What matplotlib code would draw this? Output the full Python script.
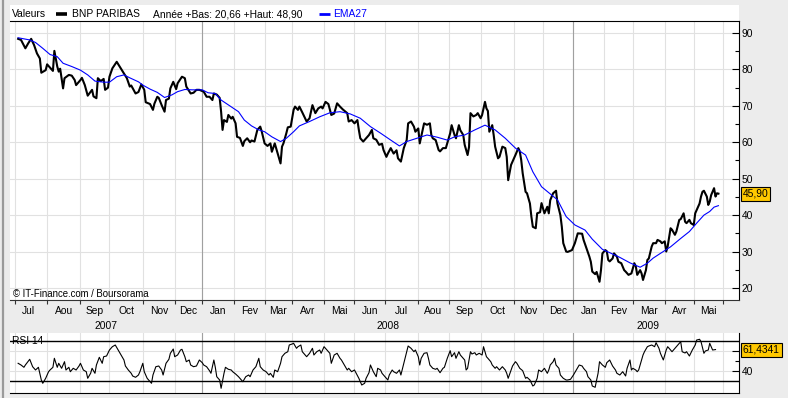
import numpy as np
import pandas as pd
import matplotlib
matplotlib.use("Agg")
import matplotlib.pyplot as plt
from matplotlib.lines import Line2D
from matplotlib.transforms import blended_transform_factory

plt.rcParams['font.family'] = ['Liberation Sans', 'DejaVu Sans']

# Euronext Paris closing days in the period
holidays = ['2007-12-25', '2007-12-26', '2008-01-01', '2008-03-21', '2008-03-24',
            '2008-05-01', '2008-12-25', '2008-12-26', '2009-01-01', '2009-04-10',
            '2009-04-13', '2009-05-01']

# session number (0 = 2 Jul 2007) and close of BNP PARIBAS
price_session = [2, 4, 7, 9, 11, 13, 15, 17, 18, 21, 22, 24, 26, 27, 29, 30, 31, 33, 34, 37,
                 39, 41, 42, 45, 46, 48, 50, 53, 54, 56, 57, 59, 61, 62, 64, 65, 67, 70, 72, 75,
                 77, 79, 80, 83, 85, 87, 89, 90, 93, 95, 96, 98, 99, 101, 103, 104, 106, 107, 109, 111,
                 112, 115, 117, 118, 121, 123, 125, 127, 130, 132, 134, 136, 137, 139, 141, 142, 143, 144, 146, 147,
                 149, 150, 152, 153, 155, 157, 158, 160, 162, 163, 165, 167, 169, 170, 172, 174, 176, 177, 179, 181,
                 183, 184, 185, 187, 188, 190, 192, 193, 195, 196, 198, 201, 203, 205, 207, 209, 211, 212, 214, 216,
                 218, 220, 222, 224, 226, 229, 230, 232, 234, 236, 237, 238, 240, 242, 244, 246, 247, 249, 251, 253,
                 254, 256, 257, 259, 261, 263, 264, 266, 268, 270, 271, 273, 275, 276, 278, 279, 280, 282, 284, 286,
                 287, 288, 290, 292, 293, 295, 297, 299, 300, 301, 303, 304, 306, 307, 309, 310, 312, 313, 314, 316,
                 318, 319, 321, 322, 324, 325, 326, 327, 329, 330, 331, 333, 334, 336, 338, 339, 340, 342, 344, 345,
                 347, 348, 349, 350, 352, 353, 355, 356, 357, 359, 360, 362, 363, 365, 367, 368, 369, 371, 373, 374,
                 376, 377, 378, 380, 381, 384, 386, 388, 391, 392, 394, 396, 397, 398, 400, 401, 403, 404, 405, 407,
                 408, 409, 410, 412, 413, 415, 416, 418, 420, 421, 423, 425, 427, 428, 429, 431, 432, 433, 435, 436,
                 437, 439, 440, 442, 443, 445, 446, 448, 449, 450, 452, 453, 455, 456, 458, 459, 461, 462, 463, 465,
                 466, 468, 469, 471, 472, 473, 474, 475, 477, 478, 479, 480, 482, 483, 484, 485]
price = [88.4, 88.1, 85.8, 87.2, 88.4, 86.7, 84.4, 83.0, 79.1, 79.8, 81.4, 80.5, 79.6, 85.1, 80.8, 79.4, 80.2, 74.8, 77.6, 78.5,
         78.3, 77.1, 75.7, 77.1, 77.7, 75.7, 72.8, 74.4, 72.6, 72.1, 77.6, 76.8, 77.4, 74.4, 75.0, 78.0, 80.3, 82.1, 80.8, 78.9,
         77.6, 75.3, 75.6, 73.4, 73.8, 75.9, 74.4, 71.0, 70.5, 68.9, 70.6, 72.5, 72.2, 70.2, 68.4, 71.6, 72.0, 74.8, 76.6, 74.6,
         76.2, 78.0, 77.6, 75.3, 73.4, 73.6, 74.4, 74.4, 73.9, 72.5, 72.5, 71.6, 73.4, 73.1, 72.2, 68.4, 63.4, 66.1, 65.6, 67.5,
         66.5, 67.0, 65.2, 61.5, 61.2, 59.0, 60.3, 61.1, 60.0, 60.5, 60.2, 63.4, 64.3, 63.0, 59.7, 59.0, 59.7, 57.4, 59.7, 57.0,
         54.2, 58.8, 59.7, 62.5, 64.1, 64.3, 68.9, 69.8, 68.9, 69.8, 68.2, 65.7, 66.6, 70.2, 68.0, 69.3, 69.8, 69.3, 71.1, 70.5,
         67.5, 67.9, 70.7, 69.8, 69.0, 68.0, 65.7, 66.1, 65.2, 66.1, 63.4, 61.1, 60.2, 61.1, 62.0, 63.4, 61.1, 60.7, 59.3, 59.6,
         57.9, 56.0, 56.9, 58.4, 56.9, 57.8, 55.6, 54.7, 58.4, 60.6, 65.2, 65.7, 64.3, 62.9, 63.8, 59.7, 61.5, 65.2, 64.8, 65.2,
         62.0, 61.1, 60.6, 57.9, 57.5, 58.4, 58.4, 61.1, 62.5, 64.7, 62.0, 61.1, 64.7, 63.3, 62.0, 59.3, 56.5, 58.7, 68.0, 67.1,
         67.5, 68.0, 66.6, 67.5, 71.1, 69.3, 68.6, 62.9, 64.7, 62.0, 58.8, 55.6, 56.0, 58.8, 58.4, 56.0, 49.6, 53.8, 55.6, 56.5,
         58.4, 57.5, 55.1, 51.5, 46.4, 46.0, 43.2, 39.6, 36.8, 36.4, 40.5, 40.8, 43.3, 40.5, 42.3, 40.5, 44.1, 46.0, 46.7, 43.2,
         40.0, 36.8, 32.3, 30.0, 29.9, 30.4, 32.3, 35.0, 34.9, 33.2, 30.9, 28.6, 27.2, 24.5, 23.8, 24.4, 21.7, 24.9, 29.5, 30.4,
         30.1, 27.7, 27.3, 28.1, 29.5, 28.6, 27.2, 26.8, 24.9, 24.5, 23.6, 24.0, 26.8, 26.0, 23.6, 24.9, 24.0, 22.2, 24.9, 27.7,
         28.1, 31.4, 32.3, 32.3, 33.2, 32.8, 32.3, 32.8, 30.0, 31.4, 36.4, 36.0, 34.6, 35.5, 38.7, 38.9, 40.5, 38.2, 37.8, 38.7,
         37.8, 37.3, 40.5, 42.3, 43.2, 45.1, 46.4, 46.7, 45.1, 42.8, 43.7, 45.5, 47.4, 45.1, 46.0, 45.9]

ema_session = [2, 10, 14, 19, 24, 29, 33, 39, 45, 50, 55, 61, 65, 70, 75, 79, 85, 88, 93, 98,
               103, 108, 112, 117, 122, 129, 133, 138, 142, 148, 154, 158, 163, 168, 172, 177, 183, 187, 192, 196,
               203, 210, 217, 224, 231, 238, 245, 252, 259, 265, 270, 277, 284, 291, 298, 303, 310, 317, 324, 331,
               338, 345, 352, 357, 363, 370, 374, 380, 386, 393, 398, 405, 410, 417, 424, 431, 436, 440, 445, 452,
               459, 465, 470, 475, 479, 482, 485]
ema27 = [88.7, 88.1, 87.4, 85.8, 84.1, 83.5, 81.7, 80.8, 79.8, 78.5, 76.8, 76.5, 76.5, 78.0, 78.5, 77.7, 76.6, 75.7, 74.6, 73.7,
         72.3, 73.0, 73.9, 74.5, 74.4, 74.4, 73.6, 73.4, 71.6, 70.0, 68.4, 66.1, 64.5, 63.4, 62.9, 61.5, 60.2, 61.1, 62.9, 64.5,
         65.7, 67.0, 68.1, 68.4, 67.8, 66.6, 64.3, 62.5, 60.6, 59.0, 60.2, 61.1, 62.0, 61.4, 60.6, 61.5, 62.0, 63.4, 64.7, 63.4,
         61.1, 58.4, 56.5, 51.9, 47.8, 45.5, 44.2, 39.6, 37.3, 35.9, 33.4, 30.6, 29.7, 28.4, 26.9, 25.7, 26.8, 28.2, 29.5, 31.3,
         33.6, 35.5, 37.8, 40.0, 41.0, 42.2, 42.6]

rsi_session = [2, 4, 6, 7, 10, 12, 14, 16, 18, 19, 21, 23, 24, 26, 27, 29, 30, 32, 34, 35,
               37, 38, 40, 42, 44, 45, 47, 49, 50, 52, 53, 55, 56, 58, 60, 61, 63, 65, 67, 69,
               71, 73, 75, 76, 78, 80, 81, 83, 85, 86, 88, 89, 91, 92, 94, 95, 97, 99, 101, 102,
               104, 106, 107, 109, 110, 112, 114, 115, 117, 118, 120, 121, 123, 125, 127, 129, 130, 132, 134, 135,
               137, 138, 139, 141, 142, 144, 145, 147, 149, 150, 152, 154, 156, 157, 159, 161, 162, 164, 166, 168,
               169, 171, 173, 175, 176, 178, 179, 181, 183, 184, 186, 188, 189, 191, 192, 194, 195, 197, 198, 200,
               201, 203, 205, 206, 208, 210, 211, 213, 215, 217, 218, 220, 222, 224, 225, 227, 229, 230, 232, 234,
               237, 239, 241, 242, 244, 245, 247, 249, 250, 252, 253, 255, 257, 258, 260, 261, 263, 265, 266, 268,
               270, 271, 273, 275, 276, 278, 279, 280, 282, 284, 285, 286, 288, 290, 291, 293, 295, 296, 298, 300,
               301, 303, 304, 306, 307, 309, 310, 311, 312, 314, 315, 317, 318, 320, 322, 323, 325, 326, 328, 329,
               331, 332, 334, 336, 338, 339, 340, 342, 343, 345, 346, 348, 350, 352, 353, 355, 357, 358, 360, 361,
               363, 365, 367, 368, 369, 371, 372, 373, 375, 376, 378, 380, 381, 383, 385, 387, 389, 391, 392, 394,
               395, 397, 398, 400, 401, 402, 403, 405, 407, 408, 410, 412, 414, 415, 417, 419, 421, 422, 424, 425,
               426, 428, 429, 430, 432, 433, 434, 436, 437, 439, 441, 442, 444, 445, 447, 448, 449, 450, 451, 453,
               454, 456, 457, 459, 460, 462, 463, 465, 467, 469, 470, 472, 473, 475, 476, 478, 479, 480, 481, 483]
rsi14 = [47.7, 46.0, 43.7, 46.0, 51.7, 44.3, 41.0, 43.7, 31.0, 27.7, 32.7, 39.3, 41.0, 43.7, 52.7, 43.7, 47.7, 42.7, 49.3, 41.0,
         43.7, 39.3, 42.7, 41.0, 45.0, 47.7, 41.0, 39.3, 32.7, 37.7, 42.7, 37.7, 46.0, 53.7, 47.7, 54.3, 55.0, 61.0, 64.3, 66.0,
         61.0, 56.0, 51.0, 45.0, 41.0, 37.7, 35.0, 33.7, 36.0, 39.3, 47.7, 39.3, 32.7, 31.0, 27.7, 36.0, 44.3, 45.0, 41.0, 36.0,
         47.7, 51.7, 57.7, 62.0, 54.3, 56.0, 61.0, 61.7, 54.3, 49.3, 51.0, 46.0, 44.3, 45.0, 51.0, 48.3, 46.0, 44.3, 40.3, 37.7,
         51.0, 43.7, 34.3, 31.0, 22.7, 37.7, 43.7, 41.7, 41.0, 39.3, 37.0, 34.3, 31.0, 29.3, 34.3, 36.0, 34.3, 41.0, 44.3, 52.7,
         44.3, 41.0, 39.3, 36.0, 37.7, 33.7, 41.0, 39.3, 47.7, 54.3, 57.7, 59.3, 66.0, 67.0, 67.7, 62.7, 64.3, 66.0, 59.3, 56.0,
         54.3, 57.7, 62.7, 56.0, 59.3, 61.0, 57.7, 64.3, 61.0, 57.7, 47.7, 56.0, 57.7, 52.7, 51.0, 46.0, 41.0, 42.7, 39.3, 41.0,
         32.7, 26.0, 27.7, 32.7, 38.3, 46.0, 39.3, 34.3, 42.7, 41.0, 37.7, 34.3, 31.0, 36.0, 41.0, 39.3, 37.7, 41.0, 36.0, 47.7,
         59.3, 65.0, 62.7, 59.3, 61.0, 54.3, 46.0, 52.7, 57.7, 58.3, 52.7, 46.0, 42.7, 41.7, 42.7, 38.3, 42.7, 43.7, 52.7, 60.3,
         54.3, 58.3, 52.7, 59.3, 56.0, 52.7, 51.0, 41.0, 42.7, 59.3, 57.0, 58.3, 56.0, 57.7, 56.0, 64.3, 54.3, 52.7, 49.3, 46.0,
         42.7, 44.3, 41.0, 44.3, 41.0, 37.7, 32.7, 41.0, 45.0, 49.3, 47.7, 42.7, 40.3, 32.7, 33.7, 31.0, 25.0, 26.0, 32.7, 41.0,
         39.3, 42.7, 37.7, 41.0, 46.0, 49.3, 52.7, 46.0, 42.7, 36.0, 32.7, 31.0, 31.0, 31.7, 36.0, 41.0, 46.0, 45.0, 42.7, 39.3,
         34.3, 31.0, 25.0, 23.7, 31.0, 37.7, 49.3, 46.0, 43.7, 48.3, 51.0, 45.0, 41.0, 37.7, 36.0, 39.3, 35.0, 42.7, 51.0, 41.0,
         42.7, 41.0, 39.3, 41.0, 51.0, 56.0, 59.3, 64.3, 65.0, 66.0, 64.3, 68.3, 62.7, 57.7, 51.0, 56.0, 61.0, 64.3, 62.7, 59.3,
         61.0, 64.3, 66.0, 69.3, 59.3, 58.0, 59.3, 55.0, 61.0, 66.0, 71.0, 71.7, 69.3, 57.7, 60.0, 61.0, 67.7, 64.3, 61.0, 61.4341]

month_names = ['Jan', 'Fev', 'Mar', 'Avr', 'Mai', 'Jun', 'Jul', 'Aou', 'Sep', 'Oct', 'Nov', 'Dec']

# trading calendar -> first session of every month
sessions = pd.bdate_range('2007-07-02', '2009-06-30', freq='C', holidays=holidays)
idx = pd.Series(np.arange(len(sessions)), index=sessions)
month_first = idx.groupby([sessions.year, sessions.month]).first()
month_keys = list(month_first.index)
month_starts = list(month_first.values)

W, H = 788, 398
BG = '#ECECEC'
GRID = '#E1E1E1'
YEARLINE = '#A0A0A0'
XLIM = (-3.6, 499.2)


def box(x0, y0, x1, y1):
    return [x0 / W, 1 - y1 / H, (x1 - x0) / W, (y1 - y0) / H]


fig = plt.figure(figsize=(W / 100, H / 100), dpi=100)
fig.patch.set_facecolor(BG)

head = fig.add_axes(box(10, 5, 739, 21))
ax = fig.add_axes(box(10, 21, 739, 300))
ax_rsi = fig.add_axes(box(10, 333, 739, 393))

# ---- header strip
head.set_facecolor('white')
head.set_xticks([])
head.set_yticks([])
for s in head.spines.values():
    s.set_visible(False)
head.set_xlim(0, 1)
head.set_ylim(0, 1)
fs = 7.4
head.text(0.0027, 0.42, 'Valeurs', fontsize=fs, va='center')
head.plot([0.063, 0.078], [0.42, 0.42], color='black', lw=2.6, solid_capstyle='butt')
head.text(0.085, 0.42, 'BNP PARIBAS', fontsize=fs, va='center')
head.text(0.196, 0.42, 'Année +Bas: 20,66 +Haut: 48,90', fontsize=fs, va='center')
head.plot([0.424, 0.439], [0.42, 0.42], color='#0000FF', lw=2.0, solid_capstyle='butt')
head.text(0.443, 0.42, 'EMA27', fontsize=fs, va='center', color='#0000FF')

# ---- shared panel styling
for a in (ax, ax_rsi):
    a.set_facecolor('white')
    a.set_xlim(*XLIM)
    a.set_xticks(month_starts)
    a.grid(axis='x', color=GRID, lw=0.8, zorder=0)
    for key, start in zip(month_keys, month_starts):
        if key[1] == 1:
            a.axvline(start, color=YEARLINE, lw=0.8, zorder=1)
    a.yaxis.tick_right()
    a.spines['left'].set_visible(False)
    a.spines['right'].set_color('black')
    a.tick_params(axis='y', which='both', direction='in', labelsize=fs, pad=2,
                  color='black', width=0.8)
    a.tick_params(axis='y', which='major', length=5)
    a.tick_params(axis='y', which='minor', length=3)
    a.grid(axis='y', which='major', color=GRID, lw=0.8, zorder=0)
    a.set_axisbelow(True)

# ---- price panel
ax.plot(price_session, price, color='black', lw=1.5, zorder=3)
ax.plot(ema_session, ema27, color='#0000FF', lw=0.8, zorder=4)
ax.set_ylim(16.7, 93.3)
ax.set_yticks(np.arange(20, 91, 10))
ax.set_yticks(np.arange(25, 90, 10), minor=True)
ax.tick_params(axis='x', direction='out', length=3, width=0.8, labelbottom=False, color='#333333')
ax.spines['bottom'].set_color('#333333')
ax.spines['top'].set_color('black')
ax.text(0.004, 0.022, '© IT-Finance.com / Boursorama', transform=ax.transAxes,
        fontsize=6.9, va='center')

ax.annotate(f'{price[-1]:.2f}'.replace('.', ','), xy=(1, price[-1]),
            xycoords=('axes fraction', 'data'), xytext=(2.6, 0), textcoords='offset points',
            ha='left', va='center', fontsize=fs, annotation_clip=False, zorder=10,
            bbox=dict(boxstyle='square,pad=0.2', fc='#FFC800', ec='black', lw=0.8))

# month / year labels under the price panel
trans = blended_transform_factory(ax.transData, ax.transAxes)
edges = [XLIM[0]] + month_starts[1:]
years = {}
for i in range(len(month_starts) - 1):
    y, m = month_keys[i]
    c = (edges[i] + edges[i + 1]) / 2
    ax.text(c, -0.040, month_names[m - 1], transform=trans, ha='center', va='center',
            fontsize=fs, clip_on=False)
    years.setdefault(y, [edges[i], edges[i + 1]])
    years[y][1] = edges[i + 1]
for y, (l, r) in years.items():
    ax.text((l + r) / 2, -0.093, str(y), transform=trans, ha='center', va='center',
            fontsize=fs, clip_on=False)

# ---- RSI panel
ax_rsi.plot(rsi_session, rsi14, color='black', lw=0.8, zorder=3)
ax_rsi.axhline(70, color='black', lw=1.0, zorder=4)
ax_rsi.axhline(30, color='black', lw=1.0, zorder=4)
ax_rsi.set_ylim(18, 78)
ax_rsi.set_yticks([40, 60])
ax_rsi.set_yticklabels(['40', ''])   # 60 sits under the last-value box
ax_rsi.set_yticks([50], minor=True)
ax_rsi.tick_params(axis='x', length=0, labelbottom=False)
ax_rsi.spines['top'].set_visible(False)
ax_rsi.spines['bottom'].set_color('black')
ax_rsi.text(0.003, 0.867, 'RSI 14', transform=ax_rsi.transAxes, fontsize=fs,
            va='center', zorder=2)
ax_rsi.annotate(f'{rsi14[-1]:.4f}'.replace('.', ','), xy=(1, rsi14[-1]),
                xycoords=('axes fraction', 'data'), xytext=(2.6, 0), textcoords='offset points',
                ha='left', va='center', fontsize=fs, annotation_clip=False, zorder=10,
                bbox=dict(boxstyle='square,pad=0.2', fc='#FFC800', ec='black', lw=0.8))

# window frame on the left
fig.add_artist(Line2D([2.5 / W, 2.5 / W], [0, 1], color='#9A9A9A', lw=1.6))

fig.savefig('out.png', dpi=100, facecolor=BG)
